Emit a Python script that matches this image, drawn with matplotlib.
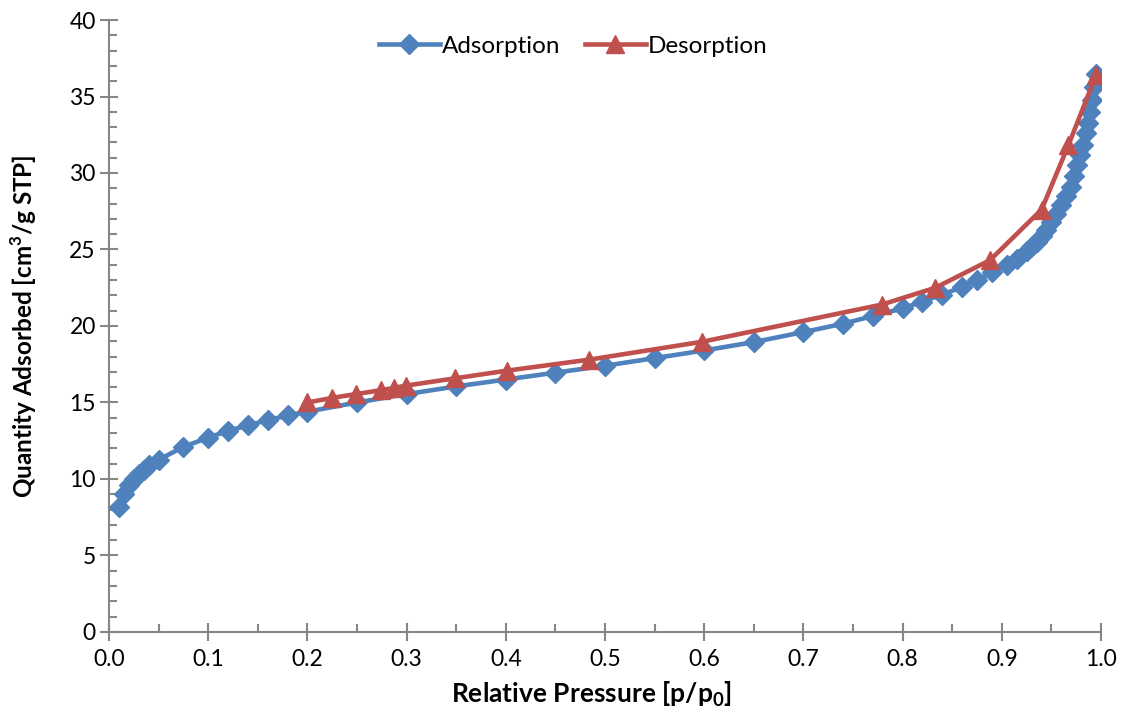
import matplotlib
matplotlib.use("Agg")
import matplotlib.pyplot as plt
from matplotlib.ticker import MultipleLocator

plt.rcParams['font.family'] = ['Lato', 'DejaVu Sans']
plt.rcParams['mathtext.fontset'] = 'custom'
plt.rcParams['mathtext.rm'] = 'Lato'
plt.rcParams['mathtext.bf'] = 'Lato:bold'

# Adsorption branch
ads_p = [0.010, 0.015, 0.020, 0.025, 0.030, 0.035, 0.040, 0.050, 0.075, 0.100,
         0.120, 0.140, 0.160, 0.180, 0.200, 0.250, 0.300, 0.350, 0.400, 0.450,
         0.500, 0.550, 0.600, 0.650, 0.700, 0.740, 0.770, 0.800, 0.820, 0.840,
         0.860, 0.875, 0.890, 0.905, 0.915, 0.925, 0.930, 0.935, 0.940, 0.945,
         0.950, 0.955, 0.960, 0.965, 0.970, 0.973, 0.976, 0.979, 0.982, 0.985,
         0.987, 0.989, 0.991, 0.993, 0.995]
ads_q = [8.2, 9.0, 9.6, 10.0, 10.3, 10.6, 10.9, 11.25, 12.1, 12.7,
         13.15, 13.5, 13.85, 14.15, 14.4, 15.0, 15.55, 16.05, 16.5, 16.95,
         17.4, 17.9, 18.4, 18.95, 19.6, 20.15, 20.65, 21.15, 21.6, 22.05,
         22.55, 23.0, 23.5, 24.0, 24.4, 24.9, 25.2, 25.5, 25.9, 26.3,
         26.8, 27.3, 27.9, 28.5, 29.1, 29.8, 30.5, 31.2, 31.8, 32.6,
         33.3, 34.0, 34.8, 35.6, 36.5]

# Desorption branch
des_p = [0.995, 0.967, 0.940, 0.888, 0.833, 0.779, 0.598, 0.484, 0.401, 0.349,
         0.299, 0.287, 0.274, 0.249, 0.225, 0.200]
des_q = [36.4, 31.8, 27.6, 24.3, 22.5, 21.4, 18.97, 17.8, 17.08, 16.58,
         16.1, 15.95, 15.8, 15.55, 15.3, 15.0]

BLUE = '#4F81BD'
RED = '#C0504D'
GREY = '#868686'

fig = plt.figure(figsize=(11.25, 7.12), dpi=100)
ax = fig.add_axes([0.0969, 0.1124, 0.8818, 0.8595])

ax.plot(ads_p, ads_q, color=BLUE, lw=3.3, marker='D', ms=10.5,
        mec=BLUE, mfc=BLUE, label='Adsorption', zorder=3)
ax.plot(des_p, des_q, color=RED, lw=3.3, marker='^', ms=12.5,
        mec=RED, mfc=RED, label='Desorption', zorder=4)

ax.set_xlim(0, 1.0)
ax.set_ylim(0, 40)
ax.xaxis.set_major_locator(MultipleLocator(0.1))
ax.xaxis.set_minor_locator(MultipleLocator(0.05))
ax.yaxis.set_major_locator(MultipleLocator(5))
ax.yaxis.set_minor_locator(MultipleLocator(1))
ax.xaxis.set_major_formatter(plt.FuncFormatter(lambda v, _: f'{v:.1f}'))

for s in ['top', 'right']:
    ax.spines[s].set_visible(False)
for s in ['left', 'bottom']:
    ax.spines[s].set_color(GREY)
    ax.spines[s].set_linewidth(1.5)

ax.tick_params(which='major', direction='inout', length=13, width=1.5,
               color=GREY, labelsize=16.5, pad=3)
ax.tick_params(which='minor', direction='in', length=6, width=1.5, color=GREY)
ax.tick_params(axis='x', which='major', pad=6)

ax.set_xlabel(r'Relative Pressure [p/p$_\mathbf{0}$]', fontsize=19,
              fontweight='bold')
ax.xaxis.set_label_coords(0.486, -0.078)
ax.set_ylabel(r'Quantity Adsorbed [cm$^\mathbf{3}$/g STP]', fontsize=17.5,
              fontweight='bold', labelpad=22)

ax.legend(loc='upper center', bbox_to_anchor=(0.468, 1.01), ncol=2,
          frameon=False, fontsize=17.5, handlelength=2.5, columnspacing=1.0,
          handletextpad=0.1)

fig.savefig('out.png', dpi=100)
